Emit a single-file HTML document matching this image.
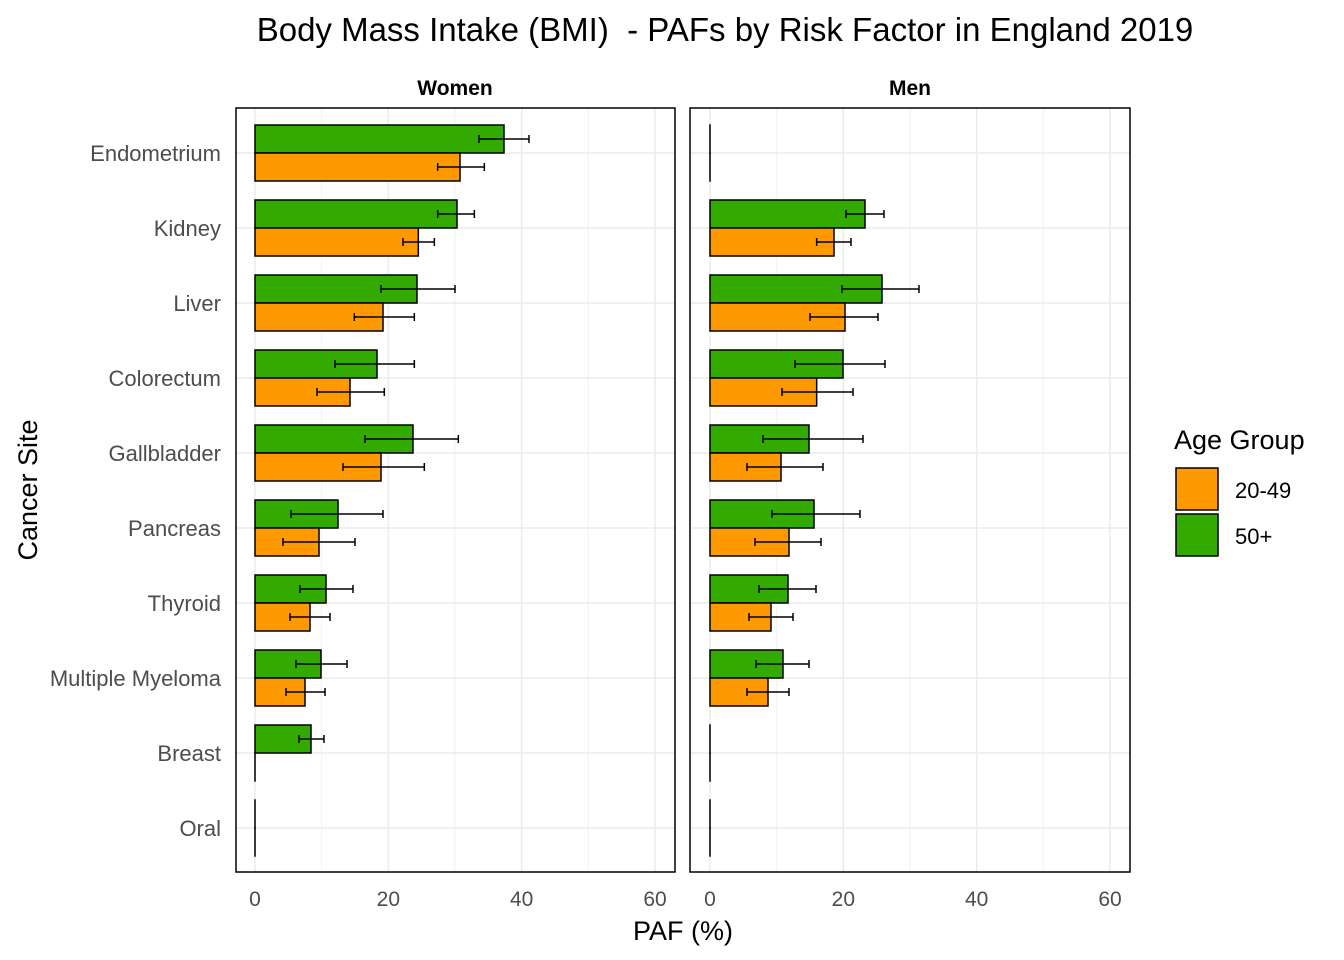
<!DOCTYPE html>
<html><head><meta charset="utf-8"><style>
html,body{margin:0;padding:0;background:#fff;}
svg{display:block;font-family:"Liberation Sans",Arial,sans-serif;}
</style></head><body>
<svg id="chart" width="1344" height="960" viewBox="0 0 1344 960">
<text x="725" y="41" font-size="33" text-anchor="middle" fill="#000" style="white-space:pre" xml:space="preserve">Body Mass Intake (BMI)  - PAFs by Risk Factor in England 2019</text>
<text x="455" y="95" font-size="21" font-weight="bold" text-anchor="middle">Women</text>
<text x="910" y="95" font-size="21" font-weight="bold" text-anchor="middle">Men</text>
<text x="683" y="940" font-size="27" text-anchor="middle">PAF (%)</text>
<text transform="translate(37,490) rotate(-90)" font-size="27" text-anchor="middle">Cancer Site</text>
<g>
<text x="1174" y="449" font-size="27">Age Group</text>
<rect x="1176" y="468" width="42" height="42" fill="#ff9900" stroke="#000" stroke-width="1.5"/>
<text x="1235" y="498" font-size="22">20-49</text>
<rect x="1176" y="514" width="42" height="42" fill="#33aa00" stroke="#000" stroke-width="1.5"/>
<text x="1235" y="544" font-size="22">50+</text>
</g>
<g id="plots"></g>
</svg>
<script>
const categories=["Endometrium","Kidney","Liver","Colorectum","Gallbladder","Pancreas","Thyroid","Multiple Myeloma","Breast","Oral"];
const xTicks=[0,20,40,60];
const womenOld=[37.35,30.3,24.3,18.3,23.7,12.45,10.65,9.9,8.4,0];
const womenOldLo=[33.6,27.4,18.9,12,16.5,5.4,6.75,6.15,6.6,0];
const womenOldHi=[41.1,32.9,30,23.9,30.5,19.2,14.7,13.8,10.35,0];
const womenYoung=[30.75,24.5,19.2,14.25,18.9,9.6,8.25,7.5,0,0];
const womenYoungLo=[27.4,22.2,14.9,9.3,13.2,4.2,5.25,4.65,0,0];
const womenYoungHi=[34.4,26.9,23.9,19.4,25.4,15,11.25,10.5,0,0];
const menOld=[0,23.25,25.8,19.95,14.85,15.6,11.7,10.95,0,0];
const menOldLo=[0,20.4,19.8,12.75,7.95,9.3,7.35,6.9,0,0];
const menOldHi=[0,26.1,31.35,26.25,22.95,22.5,15.9,14.85,0,0];
const menYoung=[0,18.6,20.25,16,10.65,11.85,9.15,8.7,0,0];
const menYoungLo=[0,16,15,10.8,5.55,6.75,5.85,5.55,0,0];
const menYoungHi=[0,21.15,25.2,21.45,16.95,16.65,12.45,11.85,0,0];

const NS="http://www.w3.org/2000/svg";
const root=document.getElementById('plots');
function mk(tag,attrs,parent){const e=document.createElementNS(NS,tag);for(const k in attrs)e.setAttribute(k,attrs[k]);parent.appendChild(e);return e;}
const panelTop=108,panelBot=872;
const yC=i=>153+i*75;
function drawPanel(name,left,right,x0,old,oldLo,oldHi,yg,ygLo,ygHi){
  const x=v=>x0+v*400/60;
  const g=mk('g',{},root);
  
  
  [10,30,50].forEach(v=>{const l=mk('line',{x1:x(v),x2:x(v),y1:panelTop,y2:panelBot,stroke:'#f2f2f2','stroke-width':1},g);
    });
  xTicks.forEach(v=>{const l=mk('line',{x1:x(v),x2:x(v),y1:panelTop,y2:panelBot,stroke:'#ebebeb','stroke-width':1.5},g);
    
    const t=mk('text',{x:x(v),y:906,'font-size':21,'text-anchor':'middle',fill:'#4d4d4d'},g);t.textContent=v;
    });
  categories.forEach((c,i)=>{const l=mk('line',{x1:left,x2:right,y1:yC(i),y2:yC(i),stroke:'#ebebeb','stroke-width':1.5},g);
    });
  function bar(v,lo,hi,top,fill,label){
    const r=mk('rect',{x:x(0),y:top,width:Math.max(x(v)-x(0),0.01),height:28,fill:fill,stroke:'#000','stroke-width':1.5},g);
    
    if(hi>lo){const ym=top+14;const e=mk('path',{d:`M${x(lo)},${ym}H${x(hi)}M${x(lo)},${ym-4}V${ym+4}M${x(hi)},${ym-4}V${ym+4}`,stroke:'#000','stroke-width':1.5,fill:'none'},g);
      }
  }
  categories.forEach((c,i)=>{
    const slug=c.toLowerCase().replace(/ /g,'-');
    bar(old[i],oldLo[i],oldHi[i],yC(i)-28,'#33aa00',name+'-bar-'+slug+'-50plus');
    bar(yg[i],ygLo[i],ygHi[i],yC(i),'#ff9900',name+'-bar-'+slug+'-20-49');
  });
  const b=mk('rect',{x:left,y:panelTop,width:right-left,height:panelBot-panelTop,fill:'none',stroke:'#000','stroke-width':1.5},g);
  
}
drawPanel('women',236,675,255,womenOld,womenOldLo,womenOldHi,womenYoung,womenYoungLo,womenYoungHi);
drawPanel('men',690,1130,710,menOld,menOldLo,menOldHi,menYoung,menYoungLo,menYoungHi);
categories.forEach((c,i)=>{const t=mk('text',{x:221,y:yC(i)+8,'font-size':22,'text-anchor':'end',fill:'#4d4d4d'},root);t.textContent=c;
  });
</script>
</body></html>
